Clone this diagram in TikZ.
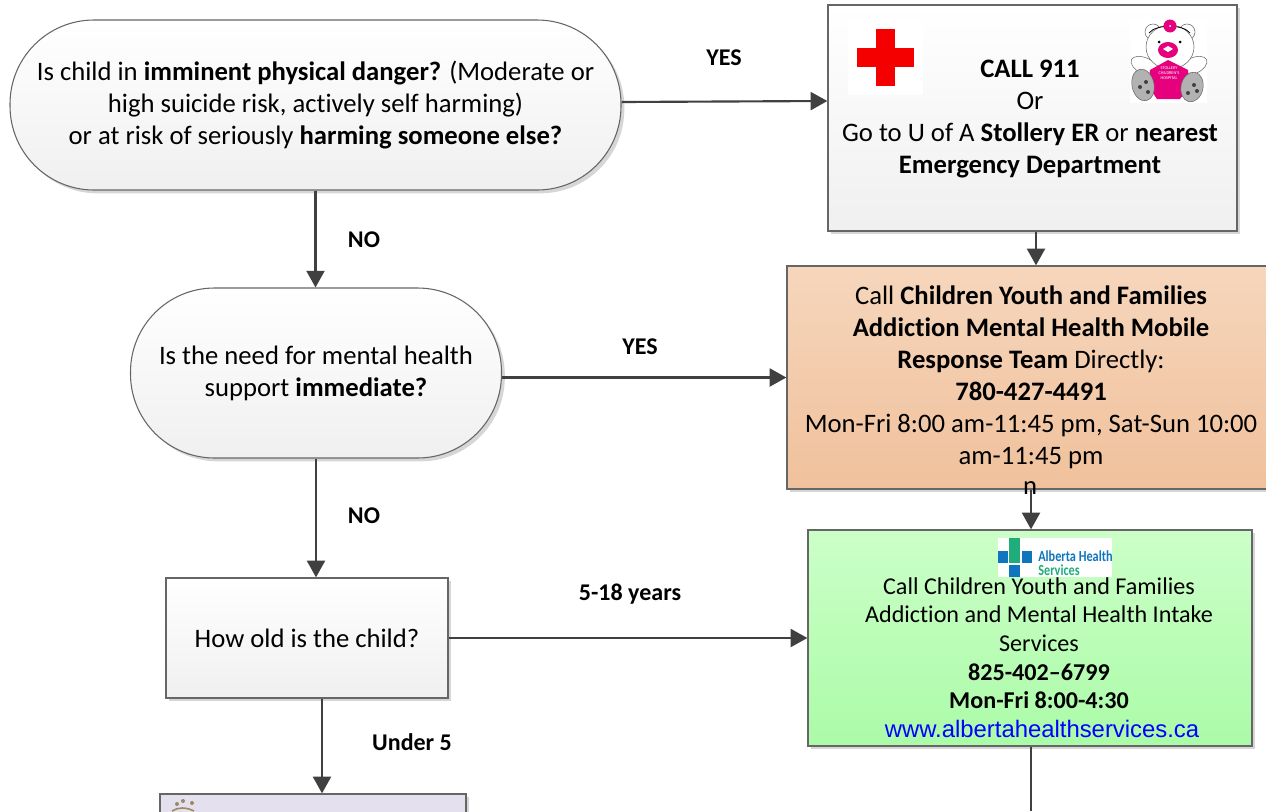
\documentclass[tikz,border=0pt]{standalone}
\usepackage{fontspec}
\setmainfont[Ligatures=NoCommon]{Carlito}
\usepackage{tikz}
\usetikzlibrary{shapes, calc, shadows, arrows.meta}

\definecolor{linegray}{HTML}{666666}
\definecolor{arrowgray}{HTML}{404040}
\definecolor{orangetop}{HTML}{F6D6BC}
\definecolor{orangebot}{HTML}{F0C19C}
\definecolor{greentop}{HTML}{CCFFC8}
\definecolor{greenbot}{HTML}{ABFBA8}
\definecolor{lilac}{HTML}{E4E0EE}
\definecolor{crossred}{HTML}{F40000}
\definecolor{bearpink}{HTML}{E6007E}
\definecolor{ahsblue}{HTML}{0F75BC}
\definecolor{ahsgreen}{HTML}{1FAE7A}
\definecolor{pawbrown}{HTML}{9A8A66}

\tikzset{
	x=0.75pt, y=-0.75pt,
	every node/.style={font=\fontsize{20}{24}\selectfont, align=center, inner sep=0pt},
	boxshadow/.style={drop shadow={shadow xshift=2.5pt, shadow yshift=-2.5pt, fill=black!16, opacity=1}},
	graybox/.style={draw=linegray, line width=1pt, rectangle, top color=white, bottom color=black!6, boxshadow},
	pillbox/.style={draw=linegray, line width=0.8pt, rectangle, rounded corners=63pt, top color=white, bottom color=black!6, boxshadow},
	flow/.style={-{Triangle[length=12.5pt, width=13.5pt]}, line width=1.6pt, draw=arrowgray},
	tag/.style={font=\fontsize{18}{22}\bfseries\selectfont},
	logotext/.style={anchor=west, font=\fontsize{11.5}{11.5}\bfseries\selectfont},
}

\begin{document}
\begin{tikzpicture}
	\useasboundingbox (0,0) rectangle (1266,811);

	% question column
	\node[pillbox, minimum width=611*0.75pt, minimum height=170*0.75pt] (danger) at (315.5,105)
		{Is child in \textbf{imminent physical danger?} (Moderate or\\
		high suicide risk, actively self harming)\\
		or at risk of seriously \textbf{harming someone else?}};
	\node[pillbox, minimum width=371*0.75pt, minimum height=170*0.75pt] (immediate) at (316,373)
		{Is the need for mental health\\
		support \textbf{immediate?}};
	\node[graybox, minimum width=282*0.75pt, minimum height=120*0.75pt] (age) at (307,638)
		{How old is the child?};
	\node[draw=linegray, line width=1pt, rectangle, fill=lilac, boxshadow, minimum width=306*0.75pt, minimum height=60*0.75pt] (under) at (313,824) {};

	% answer column
	\node[graybox, minimum width=409*0.75pt, minimum height=226*0.75pt] (call) at (1032.5,118) {};
	\node[anchor=north] (calltext) at (1030,60)
		{\textbf{CALL 911}\\
		Or\\
		Go to U of A \textbf{Stollery ER} or \textbf{nearest}\\
		\textbf{Emergency Department}};
	\node[draw=linegray, line width=1pt, rectangle, top color=orangetop, bottom color=orangebot, boxshadow, minimum width=488*0.75pt, minimum height=223*0.75pt] (mobile) at (1031,377.5)
		{Call \textbf{Children Youth and Families}\\
		\textbf{Addiction Mental Health Mobile}\\
		\textbf{Response Team} Directly:\\
		\textbf{780-427-4491}\\
		Mon-Fri 8:00 am-11:45 pm, Sat-Sun 10:00\\
		am-11:45 pm};
	\node[draw=linegray, line width=1pt, rectangle, top color=greentop, bottom color=greenbot, boxshadow, minimum width=444*0.75pt, minimum height=216*0.75pt] (intake) at (1030,638) {};

	% alberta health logo
	\fill[white] (998,538) rectangle (1112,577);
	\fill[ahsblue] (998,551) rectangle (1008,563);
	\fill[ahsblue] (1022,551) rectangle (1032,563);
	\fill[ahsblue] (1009,565) rectangle (1020,577);
	\fill[ahsgreen] (1009,538) rectangle (1020,563);
	\node[logotext, text=ahsblue] (ahsone) at (1038,556) {\scalebox{0.8}[1]{Alberta Health}};
	\node[logotext, text=ahsgreen] (ahstwo) at (1038,570) {\scalebox{0.8}[1]{Services}};

	\node[anchor=north, font=\fontsize{18.1}{21.5}\selectfont] (intaketext) at (1039,577)
		{Call Children Youth and Families\\
		Addiction and Mental Health Intake\\
		Services\\
		\textbf{825-402--6799}\\
		\textbf{Mon-Fri 8:00-4:30}\\
		\hspace*{4.5pt}\textcolor{blue}{\fontspec{Liberation Sans}\fontsize{17.9}{21.5}\selectfont www.albertahealthservices.ca}};

	% connectors
	\draw[flow] (danger.south) -- (danger.south |- immediate.north);
	\draw[flow] (immediate.south) -- (immediate.south |- age.north);
	\draw[flow] ($(age.south)+(15,0)$) -- ($(under.north)+(9,0)$);
	\draw[flow] ($(danger.east)+(0,-3)$) -- ($(call.west)+(0,-17)$);
	\draw[flow] (mobile.west -| immediate.east) -- (mobile.west);
	\draw[flow] (age.east) -- (age.east -| intake.west);
	\draw[flow] ($(call.south)+(3.5,0)$) -- ($(mobile.north)+(5,0)$);
	\draw[flow] (mobile.south) -- (mobile.south |- intake.north);
	\coordinate (bottomend) at (1031,811);
	\draw[line width=1.6pt, draw=arrowgray] (intake.south -| bottomend) -- (bottomend);

	\node (stray) at (1030,488) {n};

	% connector labels
	\node[tag] (yesone) at (724,58) {YES};
	\node[tag] (noone) at (364,240) {NO};
	\node[tag] (yestwo) at (640,347) {YES};
	\node[tag] (notwo) at (364,516) {NO};
	\node[tag] (years) at (630,594) {5-18 years};
	\node[tag] (underfive) at (412,742) {Under 5};

	% red cross
	\fill[white] (848,20) rectangle (923,95);
	\fill[crossred] (857,48) rectangle (914,67);
	\fill[crossred] (876,29) rectangle (895,86);

	% bear
	\fill[white] (1130,20) rectangle (1207,103);
	\draw[black!60, fill=white] (1153,32) circle (8);
	\draw[black!60, fill=white] (1187,32) circle (8);
	\draw[black!60, fill=white, rotate around={-25:(1145,66)}] (1145,66) ellipse (15 and 8);
	\draw[black!60, fill=white, rotate around={25:(1193,66)}] (1193,66) ellipse (15 and 8);
	\draw[black!60, fill=white] (1170,47) ellipse (24 and 22);
	\fill[bearpink] (1168,60) -- (1188,70) -- (1190,86) -- (1180,99) -- (1157,99) -- (1148,86) -- (1150,70) -- cycle;
	\node[text=white, font=\fontsize{3.2}{3.8}\selectfont] (bearlabel) at (1169,73) {STOLLERY\\CHILDREN'S\\HOSPITAL};
	\draw[black!60, fill=black!30, rotate around={12:(1143,85)}] (1143,85) ellipse (11 and 16);
	\draw[black!60, fill=black!30, rotate around={-12:(1192,87)}] (1192,87) ellipse (11 and 15);
	\fill[bearpink] (1168,50) ellipse (10 and 8);
	\fill[white] (1168,46) -- (1173,49) -- (1168,52) -- (1163,49) -- cycle;
	\fill (1159,42) circle (1.5);
	\fill (1180,42) circle (1.5);
	\draw[black, line width=0.6pt] (1149,33) .. controls (1156,24) and (1183,24) .. (1190,33);
	\fill[bearpink] (1170,26) circle (6.5);
	\fill[white] (1170,26) circle (1);
	\foreach \px/\py in {1140/87, 1146/82, 1148/92, 1188/93, 1194/85, 1197/91}
		\fill[black!75] (\px,\py) circle (2);

	% paw logo
	\fill[pawbrown] (177,804) circle (2);
	\fill[pawbrown] (183,801) circle (2);
	\fill[pawbrown] (192,803) circle (2);
	\draw[pawbrown, line width=1.2pt] (172,811) .. controls (178,807) and (186,807) .. (194,811);
\end{tikzpicture}
\end{document}
